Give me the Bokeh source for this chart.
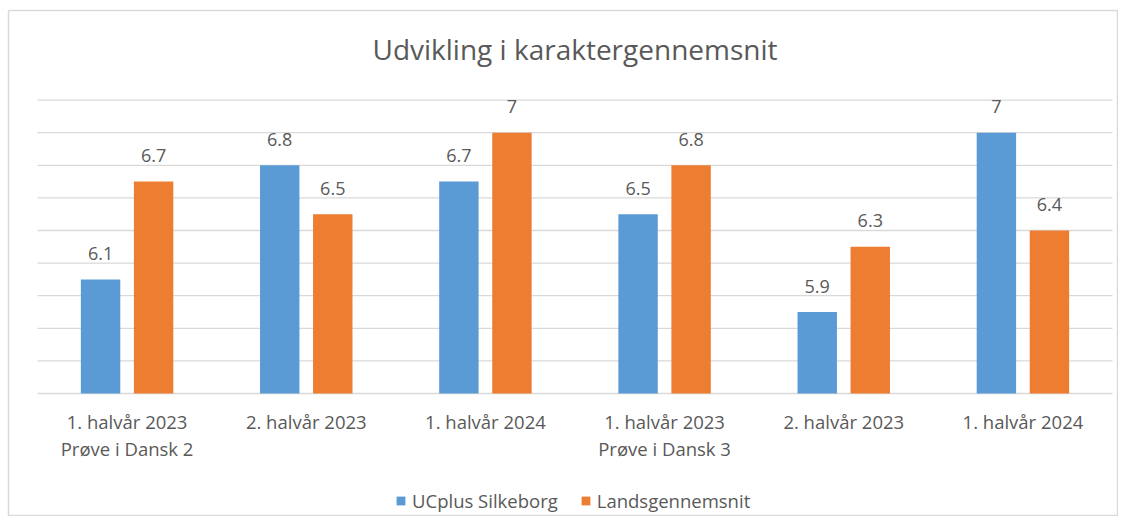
from bokeh.plotting import figure
from bokeh.models import Range1d, Legend, LegendItem
from bokeh.core.properties import value
from bokeh.embed import file_html
from bokeh.resources import INLINE

title = "Udvikling i karaktergennemsnit"
categories = ["1. halvår 2023", "2. halvår 2023", "1. halvår 2024",
              "1. halvår 2023", "2. halvår 2023", "1. halvår 2024"]
subtitles = ["Prøve i Dansk 2", "", "", "Prøve i Dansk 3", "", ""]
ucplus = [6.1, 6.8, 6.7, 6.5, 5.9, 7.0]
lands = [6.7, 6.5, 7.0, 6.8, 6.3, 6.4]
series_names = ["UCplus Silkeborg", "Landsgennemsnit"]
grid_ticks = [5.4, 5.6, 5.8, 6.0, 6.2, 6.4, 6.6, 6.8, 7.0, 7.2]

BLUE = "#5B9BD5"
ORANGE = "#ED7D31"
TEXT = "#595959"
GRID = "#D9D9D9"
FONT = "Open Sans"

W, H = 1118, 516
FL, FT = 8, 10                    # frame offset (border) inside the canvas
FW, FH = W - FL, H - FT
n = len(categories)
base = grid_ticks[0]
centers = [i + 0.5 for i in range(n)]
x_blue = [c - 0.148 for c in centers]
x_orange = [c + 0.148 for c in centers]

# layout (frame-relative px): plot area 29..1104, baseline at 383, 163 px per unit
PL, PR, PB = 29, 1104, 383
cat_px = (PR - PL) / n
px_per_unit = 163.0
x_range = Range1d(-PL / cat_px, n + (FW - PR) / cat_px)
y_range = Range1d(base - (FH - PB) / px_per_unit, base + PB / px_per_unit)

p = figure(width=W, height=H, output_backend="svg", toolbar_location=None,
           x_range=x_range, y_range=y_range,
           min_border=0, min_border_left=FL, min_border_right=0,
           min_border_top=FT, min_border_bottom=0)
p.axis.visible = False
p.grid.visible = False
p.outline_line_color = GRID
p.outline_line_width = 1.5

# gridlines
p.segment(x0=[0] * len(grid_ticks), x1=[n] * len(grid_ticks), y0=grid_ticks, y1=grid_ticks,
          line_color=GRID, line_width=1.3)

bw = 0.22
r1 = p.vbar(x=x_blue, top=ucplus, bottom=base, width=bw, fill_color=BLUE, line_color=None)
r2 = p.vbar(x=x_orange, top=lands, bottom=base, width=bw, fill_color=ORANGE, line_color=None)

# value labels
for xs, vals in ((x_blue, ucplus), (x_orange, lands)):
    p.text(x=xs, y=vals, text=[f"{v:g}" for v in vals], text_align="center",
           text_baseline="alphabetic", y_offset=-26, text_color=TEXT,
           text_font=value(FONT), text_font_size="18px")

# category labels
p.text(x=centers, y=[base] * n, text=categories, text_align="center", text_baseline="top",
       y_offset=15, text_color=TEXT, text_font=value(FONT), text_font_size="18.5px")
p.text(x=centers, y=[base] * n, text=subtitles, text_align="center", text_baseline="top",
       y_offset=42, text_color=TEXT, text_font=value(FONT), text_font_size="18.5px")

# title
p.text(x=[n / 2], y=[y_range.end], text=[title], text_align="center", text_baseline="middle",
       y_offset=38, text_color=TEXT, text_font=value(FONT), text_font_size="28px")

legend = Legend(items=[LegendItem(label=series_names[0], renderers=[r1]),
                       LegendItem(label=series_names[1], renderers=[r2])],
                orientation="horizontal", location=(387, 3),
                glyph_width=11, glyph_height=11, spacing=22,
                label_text_font=FONT, label_text_font_size="18.5px", label_text_color=TEXT,
                label_standoff=6, border_line_color=None, background_fill_alpha=0,
                margin=0, padding=0)
p.add_layout(legend)

open("out.html", "w").write(file_html(p, INLINE))
